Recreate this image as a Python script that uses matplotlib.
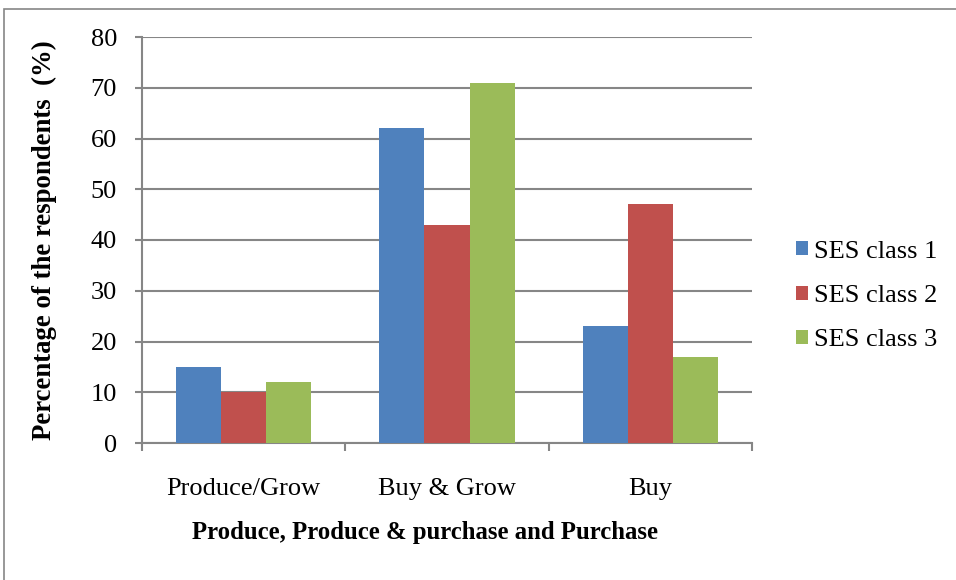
import numpy as np
import matplotlib
matplotlib.use("Agg")
from matplotlib import pyplot as plt
from matplotlib.patches import Rectangle

# data
categories = ["Produce/Grow", "Buy & Grow", "Buy"]
seriesNames = ["SES class 1", "SES class 2", "SES class 3"]
ses1 = [15, 62, 23]
ses2 = [10, 43, 47]
ses3 = [12, 71, 17]
yTicks = [0, 10, 20, 30, 40, 50, 60, 70, 80]

colors = ["#4F81BD", "#C0504D", "#9BBB59"]
gridColor = "#868686"

plt.rcParams["font.family"] = ["Liberation Serif", "DejaVu Serif"]

W, H = 956, 580
fig = plt.figure(figsize=(W / 100, H / 100), dpi=100)

# outer chart border (right/bottom run off the picture)
fig.patches.append(Rectangle((4 / W, 0 - 10 / H), 1.1, 1 - 9 / H + 10 / H,
                             transform=fig.transFigure, fill=False,
                             edgecolor=gridColor, linewidth=1.2))

ax = fig.add_axes([142 / W, 1 - 443 / H, (752 - 142) / W, (443 - 37) / H])

x = np.arange(len(categories))
barW = 0.2217
for i, (vals, name) in enumerate(zip([ses1, ses2, ses3], seriesNames)):
  ax.bar(x + (i - 1) * barW, vals, barW, color=colors[i], label=name, zorder=3)

ax.set_xlim(-0.5, len(categories) - 0.5)
ax.set_ylim(0, 80)
ax.set_yticks(yTicks)
ax.yaxis.grid(True, color=gridColor, linewidth=1.5, zorder=0)

for side in ["top", "right"]:
  ax.spines[side].set_visible(False)
for side in ["left", "bottom"]:
  ax.spines[side].set_color(gridColor)
  ax.spines[side].set_linewidth(1.5)

ax.tick_params(axis="y", labelsize=19, length=5, width=1.5, color=gridColor, pad=13)
ax.set_xticks(x)
ax.set_xticklabels(categories)
ax.tick_params(axis="x", which="major", length=0, labelsize=19, pad=25)
ax.set_xticks(np.arange(len(categories) + 1) - 0.5, minor=True)
ax.tick_params(axis="x", which="minor", length=6, width=1.5, color=gridColor)

ax.set_ylabel("Percentage of the respondents  (%)", fontsize=19.3, fontweight="bold")
ax.yaxis.set_label_coords((57 - 142) / 610, 0.5)

fig.text(425 / W, 1 - 533 / H, "Produce, Produce & purchase and Purchase",
         fontsize=17.8, fontweight="bold", ha="center", va="center")

fig.legend(loc="center left", bbox_to_anchor=(796 / W, 1 - 296 / H), frameon=False,
           fontsize=19, handlelength=0.45, handleheight=0.45, handletextpad=0.25,
           labelspacing=0.85, borderaxespad=0, borderpad=0)

fig.savefig("out.png", dpi=100)
